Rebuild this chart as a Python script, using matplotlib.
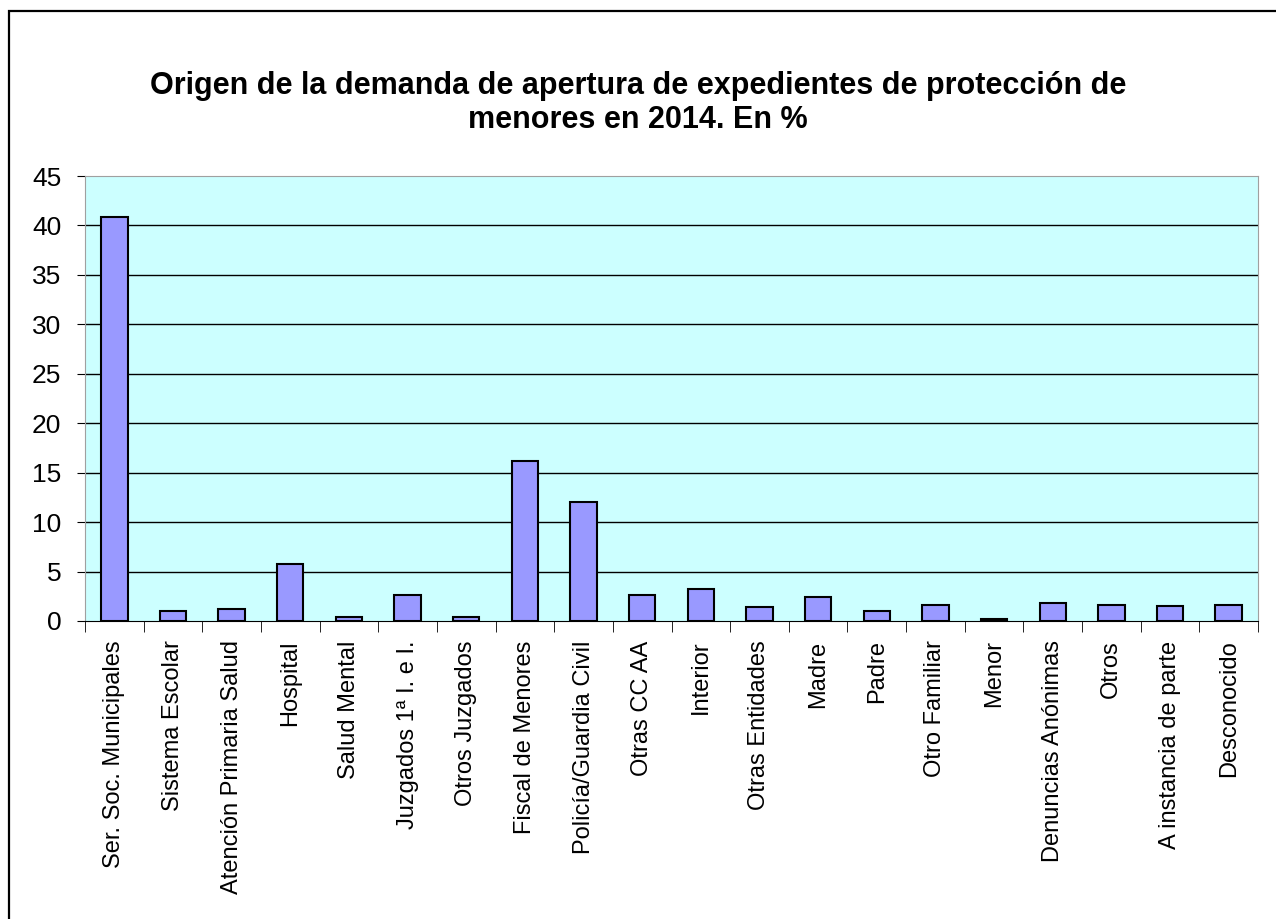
import matplotlib.pyplot as plt
import numpy as np
from matplotlib.patches import Rectangle

plt.rcParams['font.family'] = ['Liberation Sans', 'DejaVu Sans']

categorias = ['Ser. Soc. Municipales', 'Sistema Escolar', 'Atención Primaria Salud',
              'Hospital', 'Salud Mental', 'Juzgados 1ª I. e I.', 'Otros Juzgados',
              'Fiscal de Menores', 'Policía/Guardia Civil', 'Otras CC AA', 'Interior',
              'Otras Entidades', 'Madre', 'Padre', 'Otro Familiar', 'Menor',
              'Denuncias Anónimas', 'Otros', 'A instancia de parte', 'Desconocido']
porcentajes = [40.9, 1.0, 1.2, 5.8, 0.4, 2.6, 0.4, 16.2, 12.0, 2.6, 3.2,
               1.4, 2.4, 1.0, 1.6, 0.2, 1.8, 1.6, 1.5, 1.6]
yticks = [0, 5, 10, 15, 20, 25, 30, 35, 40, 45]

fig = plt.figure(figsize=(12.76, 9.19), dpi=100)
ax = fig.add_axes([85/1276, 1-621/919, (1258-85)/1276, (621-176)/919])

# marco exterior (solo se ven los bordes izquierdo y superior)
fig.patches.append(Rectangle((8.5/1276, -0.05), 1.1, 1.05 - 11/919,
                             transform=fig.transFigure, fill=False,
                             edgecolor='black', linewidth=1.6))

x = np.arange(len(categorias))
ax.set_facecolor('#CCFFFF')
ax.bar(x, porcentajes, width=0.45, color='#9999FF', edgecolor='black', linewidth=1.5, zorder=3)

for v in yticks[1:-1]:
    ax.axhline(v, color='black', linewidth=1, zorder=1)

ax.set_xlim(-0.5, len(categorias) - 0.5)
ax.set_ylim(0, 45)
ax.set_yticks(yticks)
ax.tick_params(axis='y', labelsize=19, length=6, direction='out', pad=11)

ax.set_xticks(x)
ax.set_xticklabels(categorias, rotation=90, fontsize=17)
ax.tick_params(axis='x', length=0, pad=14)
ax.set_xticks(np.arange(len(categorias) + 1) - 0.5, minor=True)
ax.tick_params(axis='x', which='minor', length=8, direction='out')

for s in ['top', 'right', 'left']:
    ax.spines[s].set_color('#A0A0A0')
ax.spines['bottom'].set_color('black')

fig.text(0.5, 1-103/919, 'Origen de la demanda de apertura de expedientes de protección de\nmenores en 2014. En %',
         ha='center', va='center', fontsize=22, fontweight='bold', linespacing=1.2)

fig.savefig('out.png', dpi=100)
